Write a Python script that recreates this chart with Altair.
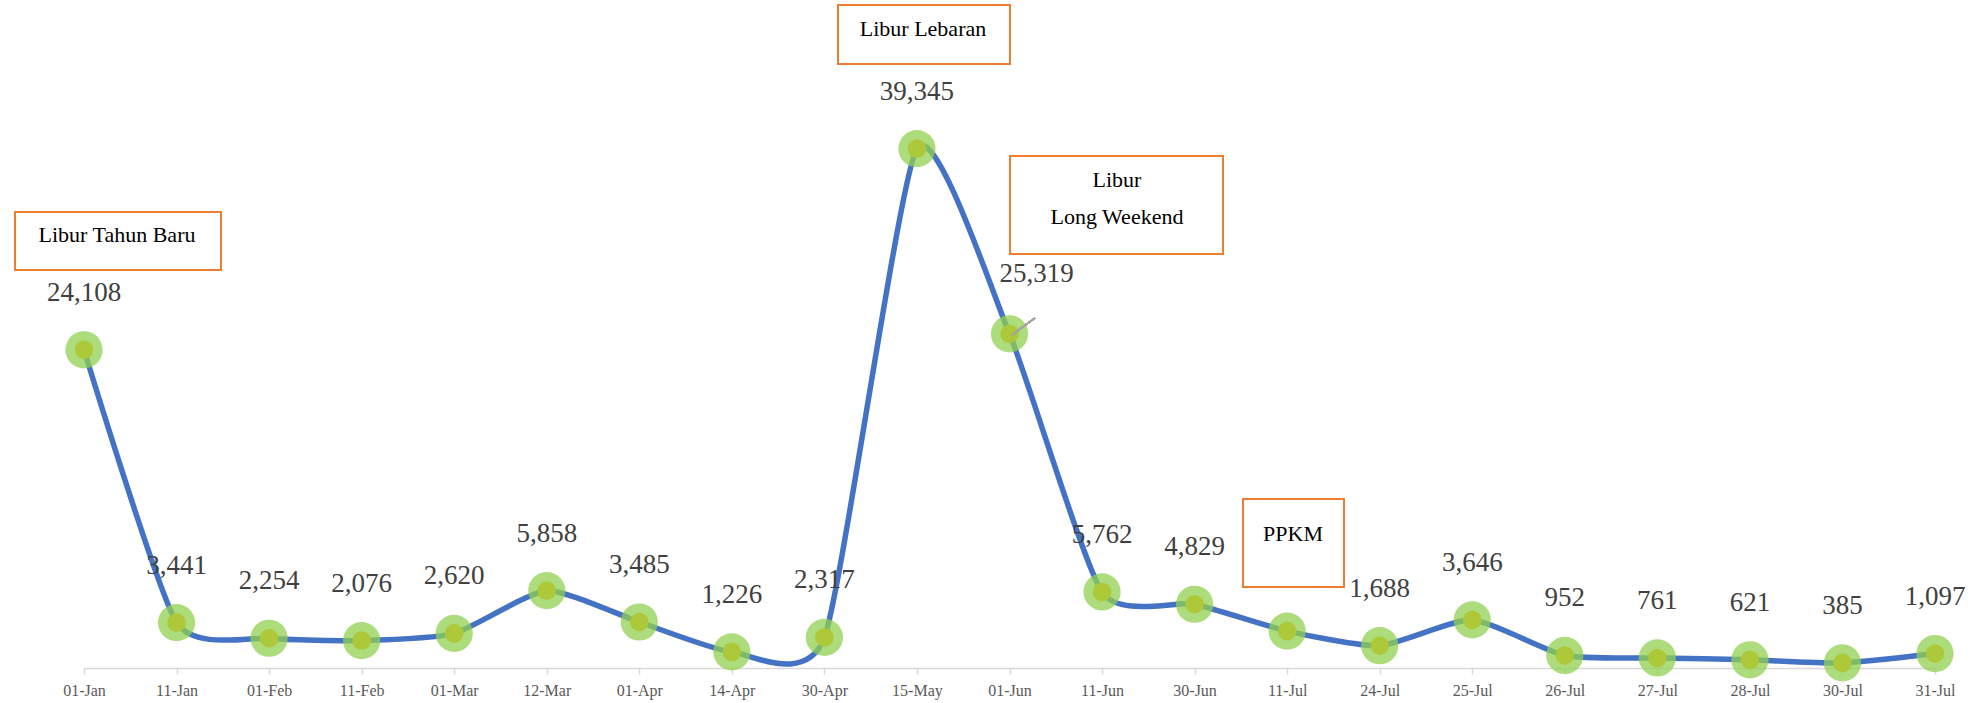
import altair as alt
import pandas as pd

# Visitor counts per holiday date
dates = ["01-Jan", "11-Jan", "01-Feb", "11-Feb", "01-Mar", "12-Mar", "01-Apr",
         "14-Apr", "30-Apr", "15-May", "01-Jun", "11-Jun", "30-Jun", "11-Jul",
         "24-Jul", "25-Jul", "26-Jul", "27-Jul", "28-Jul", "30-Jul", "31-Jul"]
visitors = [24108, 3441, 2254, 2076, 2620, 5858, 3485, 1226, 2317, 39345,
            25319, 5762, 4829, 2795, 1688, 3646, 952, 761, 621, 385, 1097]

# Callout labels
callouts = ["Libur Tahun Baru", "Libur Lebaran", "Libur", "Long Weekend", "PPKM"]
offset_label_date = "01-Jun"

df = pd.DataFrame({"date": dates, "visitors": visitors})

FONT = "Liberation Serif"
W, H = 1851, 660

x = alt.X("date:N", sort=dates, scale=alt.Scale(type="point", padding=0),
          axis=alt.Axis(title=None, labelAngle=0, labelFont=FONT, labelFontSize=16,
                        labelColor="#595959", domainColor="#D9D9D9", domainWidth=1.5,
                        tickColor="#D9D9D9", tickSize=6, tickWidth=1.5,
                        labelPadding=8, grid=False))
y = alt.Y("visitors:Q", scale=alt.Scale(domain=[0, 50000], nice=False, zero=True),
          axis=None)

base = alt.Chart(df).encode(x=x, y=y)

line = base.mark_line(interpolate="cardinal", tension=0.42, color="#4472C4",
                      strokeWidth=5.5, strokeCap="round")
outer = base.mark_point(shape="circle", filled=True, size=1385, color="#92D050",
                        opacity=0.75)
inner = base.mark_point(shape="circle", filled=True, size=346, color="#ADC93A",
                        opacity=1)

labels = base.transform_filter(alt.datum.date != offset_label_date).mark_text(
    font=FONT, fontSize=27, color="#404040", baseline="middle", dy=-57
).encode(text=alt.Text("visitors:Q", format=","))

label_side = base.transform_filter(alt.datum.date == offset_label_date).mark_text(
    font=FONT, fontSize=27, color="#404040", baseline="middle", dx=27, dy=-60
).encode(text=alt.Text("visitors:Q", format=","))

leader = alt.Chart(df).mark_rule(color="#A6A6A6", strokeWidth=1.5).encode(
    x=alt.value(928), y=alt.value(327), x2=alt.value(951), y2=alt.value(310))

# Callout boxes (pixel placement inside the plot area)
boxes = [(-69, 137, 204, 262), (754, 926, -3, 56), (926, 1139, 148, 246),
         (1159, 1260, 491, 579)]
texts = [(33, 227), (839, 21), (1033, 172), (1033, 209), (1209, 526)]

layers = [line, outer, inner, labels, label_side, leader]
for x1, x2, y1, y2 in boxes:
    layers.append(
        alt.Chart(df.head(1)).mark_rect(fill="white", stroke="#ED7D31", strokeWidth=2)
        .encode(x=alt.value(x1), x2=alt.value(x2), y=alt.value(y1), y2=alt.value(y2)))
for txt, (tx, ty) in zip(callouts, texts):
    layers.append(
        alt.Chart(df.head(1)).mark_text(font=FONT, fontSize=22, color="#000000",
                                        baseline="middle", align="center", text=txt)
        .encode(x=alt.value(tx), y=alt.value(ty)))

chart = alt.layer(*layers).properties(
    width=W, height=H,
    background="white",
    autosize=alt.AutoSizeParams(type="none"),
    padding={"left": 84, "top": 8, "right": 47, "bottom": 35},
).configure_view(stroke=None, strokeWidth=0)

chart.save("out.html", embed_options={"renderer": "svg", "actions": False})
